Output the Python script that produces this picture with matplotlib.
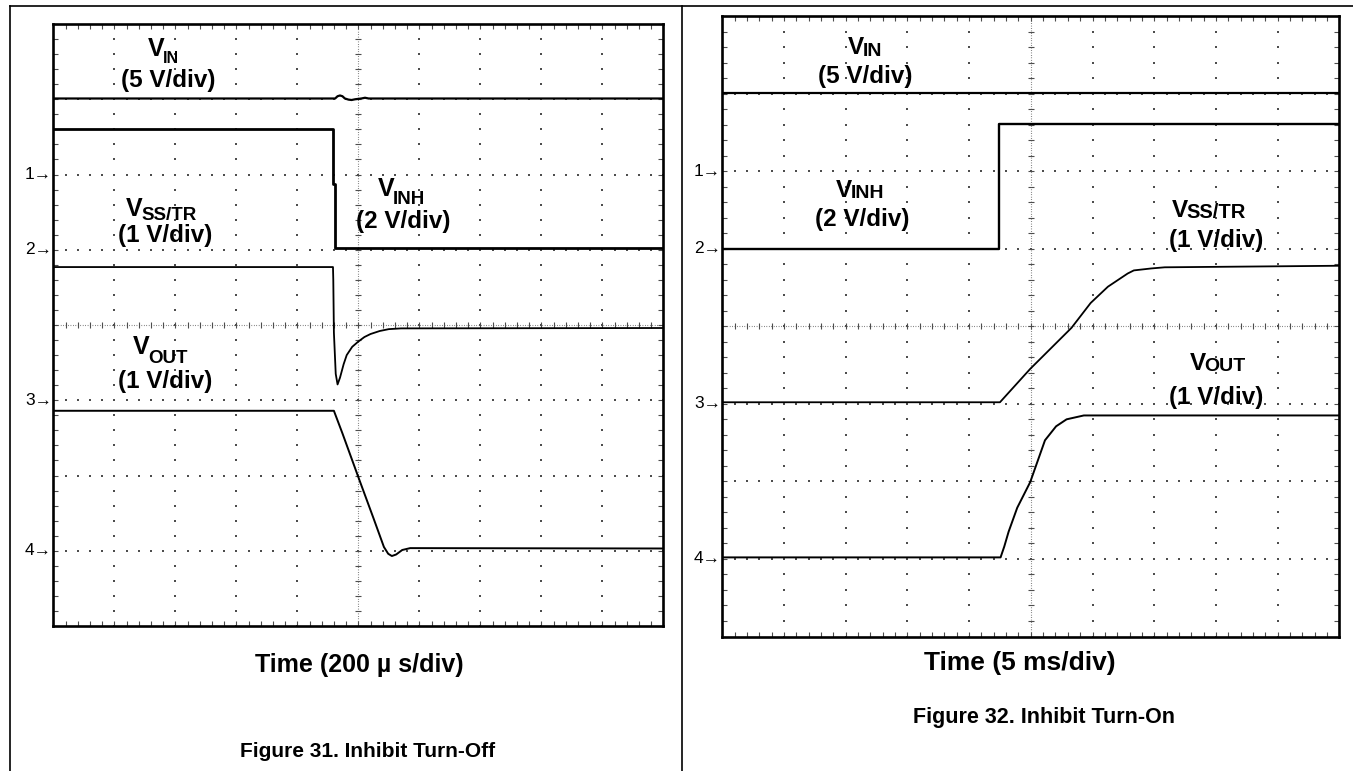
import numpy as np
import matplotlib
matplotlib.use('Agg')
import matplotlib.pyplot as plt
from matplotlib.lines import Line2D

plt.rcParams['font.family'] = ['Liberation Sans', 'DejaVu Sans']
plt.rcParams['font.weight'] = 'bold'

# Traces in screen divisions (x: 0..10, y: 0..8 from bottom)
# Figure 31, inhibit turn-off (200 us/div)
off_vin_x = [0, 4.62, 4.66, 4.70, 4.74, 4.78, 4.84, 4.89, 4.95, 5.05, 5.11, 5.17, 10]
off_vin_y = [7.01, 7.01, 7.04, 7.05, 7.04, 7.01, 6.995, 6.99, 7.0, 7.01, 7.02, 7.01, 7.01]
off_inh_x = [0, 4.59, 4.59, 4.61, 4.61, 10]
off_inh_y = [6.61, 6.61, 5.88, 5.88, 5.02, 5.02]
off_ss_x = [0, 4.585, 4.59, 4.60, 4.63, 4.66, 4.70, 4.76, 4.81, 4.90, 5.0, 5.1, 5.2, 5.35, 5.5, 5.7, 10]
off_ss_y = [4.77, 4.77, 4.6, 3.9, 3.35, 3.21, 3.30, 3.48, 3.60, 3.71, 3.78, 3.84, 3.88, 3.92, 3.945, 3.955, 3.96]
off_out_x = [0, 4.60, 4.74, 5.0, 5.25, 5.42, 5.49, 5.55, 5.62, 5.72, 5.85, 10]
off_out_y = [2.86, 2.86, 2.56, 1.98, 1.43, 1.05, 0.96, 0.93, 0.95, 1.01, 1.035, 1.03]

# Figure 32, inhibit turn-on (5 ms/div)
on_vin_x = [0, 10]
on_vin_y = [7.01, 7.01]
on_inh_x = [0, 4.48, 4.48, 10]
on_inh_y = [5.0, 5.0, 6.61, 6.61]
on_ss_x = [0, 4.50, 4.99, 5.66, 5.97, 6.25, 6.57, 6.67, 6.95, 7.17, 10]
on_ss_y = [3.02, 3.02, 3.45, 3.98, 4.30, 4.51, 4.68, 4.72, 4.745, 4.76, 4.78]
on_out_x = [0, 4.51, 4.57, 4.64, 4.78, 4.99, 5.23, 5.41, 5.58, 5.86, 10]
on_out_y = [1.02, 1.02, 1.16, 1.35, 1.66, 1.99, 2.53, 2.71, 2.80, 2.85, 2.85]

channel_marks = ['1', '2', '3', '4']
channel_levels = [6, 5, 3, 1]

W, H = 1353, 771
fig = plt.figure(figsize=(W / 100, H / 100), dpi=100)


def rect(x0, y0, x1, y1):
    return [x0 / W, 1 - y1 / H, (x1 - x0) / W, (y1 - y0) / H]


def ftext(x, y, s, size, ha='left'):
    fig.text(x / W, 1 - y / H, s, fontsize=size, ha=ha, va='baseline',
             fontweight='bold')


def vlabel(x, y, sub, size, subsize, drop, scale, sx, sy):
    # big "V" then its subscript tucked after it, then the scale below
    ftext(x, y, 'V', size)
    ftext(x + 0.667 * size * 100 / 72 - 1.5, y + drop, sub, subsize)
    ftext(sx, sy, scale, 17.5, ha='center')


def scope(ax):
    ax.set_xlim(0, 10)
    ax.set_ylim(0, 8)
    mx = np.arange(0, 10.001, 0.2)
    my = np.arange(0, 8.001, 0.2)
    for gx in [1, 2, 3, 4, 6, 7, 8, 9]:
        ax.scatter(np.full(len(my), gx), my, s=1.6, marker='s', color='0.3',
                   linewidths=0, zorder=1)
    for gy in [1, 2, 3, 5, 6, 7]:
        ax.scatter(mx, np.full(len(mx), gy), s=1.6, marker='s', color='0.3',
                   linewidths=0, zorder=1)
    ax.plot([5, 5], [0, 8], ls=(0, (0.6, 1.6)), lw=0.8, color='0.3', zorder=1)
    ax.plot([0, 10], [4, 4], ls=(0, (0.6, 1.6)), lw=0.8, color='0.3', zorder=1)
    ax.plot(np.full(len(my), 5), my, ls='none', marker='_', ms=5, mew=0.8,
            color='0.3', zorder=1)
    ax.plot(mx, np.full(len(mx), 4), ls='none', marker='|', ms=5, mew=0.8,
            color='0.3', zorder=1)
    ax.set_xticks(mx)
    ax.set_yticks(my)
    ax.tick_params(direction='in', length=3.5, width=0.8, color='0.3',
                   top=True, right=True, labelbottom=False, labelleft=False)
    for sp in ax.spines.values():
        sp.set_linewidth(1.9)
        sp.set_color('black')
    for m, lv in zip(channel_marks, channel_levels):
        ax.annotate(m + '\u2192', (0, lv), xytext=(-1, 0), textcoords='offset points',
                    ha='right', va='center', fontsize=12.5, fontweight='normal',
                    annotation_clip=False)


ax1 = fig.add_axes(rect(53.3, 24, 663.3, 626))
scope(ax1)
ax1.plot(off_vin_x, off_vin_y, color='black', lw=1.6)
ax1.plot(off_inh_x, off_inh_y, color='black', lw=2.0)
ax1.plot(off_ss_x, off_ss_y, color='black', lw=1.3)
ax1.plot(off_out_x, off_out_y, color='black', lw=1.4)

ax2 = fig.add_axes(rect(722.3, 16, 1339.3, 636.5))
scope(ax2)
ax2.plot(on_vin_x, on_vin_y, color='black', lw=1.6)
ax2.plot(on_inh_x, on_inh_y, color='black', lw=1.7)
ax2.plot(on_ss_x, on_ss_y, color='black', lw=1.3)
ax2.plot(on_out_x, on_out_y, color='black', lw=1.4)

# labels, Figure 31
vlabel(148, 56, 'IN', 18, 11.5, 7, '(5 V/div)', 168, 87)
vlabel(126, 216, 'SS/TR', 18, 13.5, 4, '(1 V/div)', 165, 242)
vlabel(378, 196, 'INH', 18, 13.5, 8, '(2 V/div)', 403, 228)
vlabel(133, 354, 'OUT', 18, 13.5, 9, '(1 V/div)', 165, 388)
ftext(359, 672, 'Time (200 \u00b5 s/div)', 18, ha='center')
ftext(368, 757, 'Figure 31. Inhibit Turn-Off', 15, ha='center')

# labels, Figure 32
vlabel(848, 54, 'IN', 17.5, 14, 1.5, '(5 V/div)', 865, 83)
vlabel(836, 197, 'INH', 17.5, 14, 1.5, '(2 V/div)', 862, 226)
vlabel(1172, 217, 'SS/TR', 17.5, 14.5, 1, '(1 V/div)', 1216, 247)
vlabel(1190, 370, 'OUT', 17.5, 14, 1, '(1 V/div)', 1216, 404)
ftext(1020, 670, 'Time (5 ms/div)', 19, ha='center')
ftext(1044, 723, 'Figure 32. Inhibit Turn-On', 15.5, ha='center')

# table rules around the two figures
for xs, ys in [([10, W], [6, 6]), ([10, 10], [6, H]), ([681.7, 681.7], [6, H])]:
    fig.add_artist(Line2D([x / W for x in xs], [1 - y / H for y in ys],
                          color='black', lw=1.2, transform=fig.transFigure))

fig.savefig('out.png', dpi=100)
